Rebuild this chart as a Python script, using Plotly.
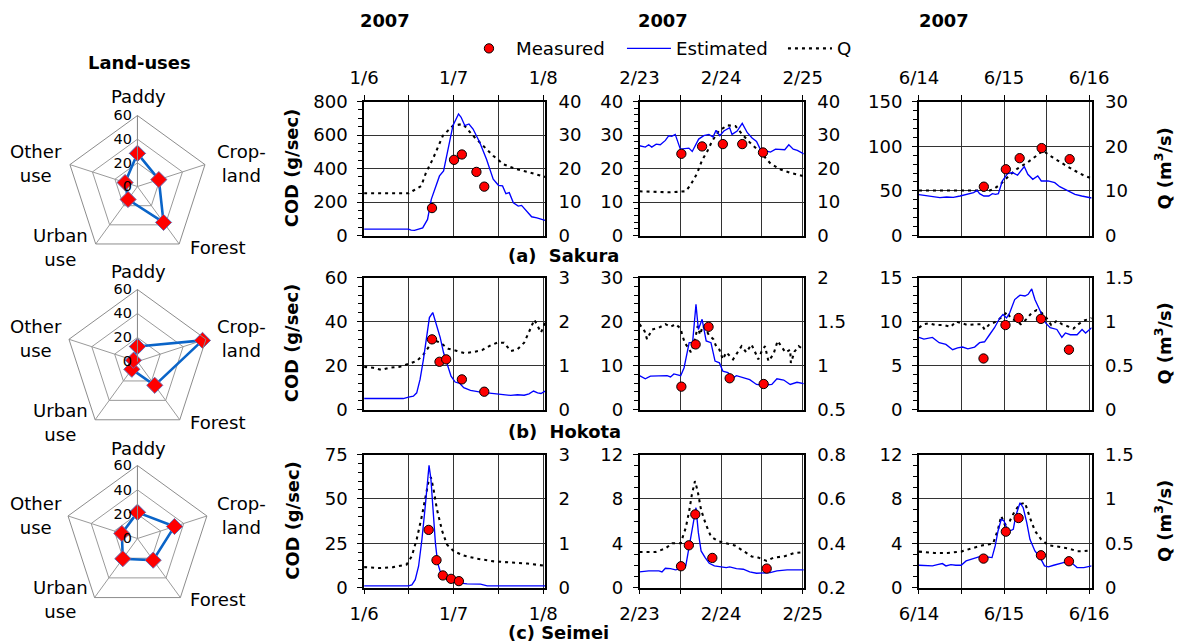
import plotly.graph_objects as go

FONT = "DejaVu Sans"

# ---------------- Land-use radar data (%) ----------------
lu_categories = ["Paddy", "Crop-<br>land", "Forest", "Urban<br>use", "Other<br>use"]
sakura_lu = [28, 19, 37.5, 13.5, 11]
hokota_lu = [12.5, 57, 24.5, 8, 3.5]
seimei_lu = [21.5, 32, 22, 20.5, 13.5]

# ---------------- time axis tick labels ----------------
hour_ticks = [0, 12, 24, 36, 48]
jan_labels = ["1/6", "", "1/7", "", "1/8"]
feb_labels = ["2/23", "", "2/24", "", "2/25"]
jun_labels = ["6/14", "", "6/15", "", "6/16"]

# ---------------- (a) Sakura ----------------
A1_est_t = [0, 11.9, 12.6, 13.5, 15.7, 17, 18, 19.3, 20.2, 21.3, 22.5, 23.8, 25.3, 26, 27, 28.1, 29.2, 31, 32.8, 34.6, 36, 37.1, 38, 38.9, 40, 41.3, 42.2, 43.6, 44.9, 46.3, 47.9, 48.5]
A1_est = [38, 38, 32, 31, 46, 96, 216, 296, 356, 386, 526, 656, 726, 706, 656, 666, 636, 556, 456, 336, 300, 296, 250, 256, 196, 176, 180, 146, 112, 106, 96, 90]
A1_q_t = [0, 12, 13, 15.3, 16.6, 18.4, 21.1, 23.8, 26.5, 29.2, 31.9, 34.6, 37.3, 40.9, 44.5, 48.5]
A1_q = [12.6, 12.6, 13.3, 14.8, 18.8, 22.8, 29.8, 32.8, 33.3, 29.8, 26.8, 23.8, 21.3, 19.8, 18.8, 17.5]
A1_meas_t = [18.2, 24.1, 26.2, 30.1, 32.2]
A1_meas = [164, 452, 484, 380, 292]

A2_est_t = [0, 1.7, 2.7, 3.6, 4.9, 6.1, 7.6, 8.6, 9.5, 10.5, 12, 13.5, 14.5, 15.5, 17.4, 18.9, 20.4, 21.6, 22.5, 23.6, 24.8, 26.5, 27.2, 28.7, 30.2, 31.7, 33.1, 34.4, 35.6, 37.1, 38.5, 40, 41.5, 42.7, 43.9, 45.2, 46.4, 48.3]
A2_est = [26.8, 26.4, 27.1, 26.4, 27.3, 27.1, 28.4, 29.8, 29.6, 30.2, 25.8, 26.1, 26.1, 25.1, 28.8, 29.8, 30.2, 29.4, 31.4, 29.8, 31.2, 32.2, 30.2, 31.2, 33.5, 30.7, 29.1, 28.1, 25.6, 25.3, 24.9, 25.8, 25.8, 25.6, 27.1, 25.8, 25.4, 24.4]
A2_q_t = [0, 5.1, 9, 12, 13.5, 14.9, 16.9, 18.4, 19.9, 21.3, 23.3, 25.8, 28.2, 30.2, 32.6, 35.6, 38.5, 41.5, 44.4, 48.3]
A2_q = [13.2, 13.1, 12.9, 13.1, 13.2, 14.9, 18.5, 22.5, 25.1, 28.1, 31.2, 32.9, 32.7, 30.2, 27.6, 24.8, 21.5, 19.7, 18.7, 17.7]
A2_meas_t = [12.3, 18.4, 24.5, 30.2, 36.3]
A2_meas = [24.4, 26.6, 27.3, 27.3, 24.8]

A3_est_t = [0, 2.1, 4, 5.9, 7.8, 9.7, 11.6, 13.5, 15.4, 16.4, 17.1, 18.3, 19.7, 20.7, 21.6, 22.4, 23.5, 25, 26.4, 27.8, 28.8, 29.7, 30.7, 32.1, 33.5, 34.5, 36.4, 38.3, 39.7, 41.6, 44, 45.9, 48.7]
A3_est = [45.8, 44.3, 43.5, 42.4, 43.1, 42.8, 44.3, 46.1, 48, 50.6, 46.9, 44.3, 44.3, 46.9, 46.1, 46.9, 61.1, 69.4, 70.5, 67.5, 72.4, 77.2, 68.6, 63, 66.7, 61.1, 61.1, 59.2, 54.7, 51, 46.1, 44.3, 42]
A3_q_t = [0, 10, 20, 21.1, 23, 25.4, 27.8, 30.7, 32.6, 35, 36.9, 39.2, 41.6, 44, 46.4, 48.7]
A3_q = [10.1, 10.1, 10.1, 10.4, 11.5, 13.4, 15, 16.4, 17.5, 19, 17.9, 16.7, 15.6, 14.5, 13.5, 12.8]
A3_meas_t = [18.3, 24.5, 28.4, 34.6, 42.5]
A3_meas = [54.7, 74.2, 86.6, 97.9, 85.5]

# ---------------- (b) Hokota ----------------
B1_est_t = [0, 10.5, 11.9, 13.2, 14.1, 15, 15.9, 16.8, 17.5, 18.4, 19.5, 20.4, 21.3, 22.2, 23.3, 24.4, 25.6, 26.7, 28.5, 31.2, 33.9, 36.6, 39.3, 41.1, 42.9, 44.2, 45.4, 46.5, 47.4, 48.5]
B1_est = [5, 5, 5.6, 6.1, 7.6, 13.7, 22.8, 35, 41.8, 44.1, 38, 32.7, 25.8, 20.5, 15.2, 12.5, 11.9, 9.9, 8.7, 7.9, 7.3, 6.8, 6.4, 6.7, 6.5, 7.1, 8.4, 7.6, 7.3, 8.4]
B1_q_t = [0, 2.4, 4.7, 6.9, 9.6, 12.3, 14.1, 15.9, 17.3, 18.6, 20.4, 22.6, 24.9, 27.1, 29.4, 31.6, 33.9, 35.7, 37.5, 39.3, 41.1, 42.9, 44.7, 45.6, 46.5, 47.4, 48.5]
B1_q = [0.97, 0.95, 0.9, 0.95, 0.97, 1.04, 1.1, 1.25, 1.43, 1.58, 1.52, 1.38, 1.33, 1.28, 1.31, 1.35, 1.46, 1.52, 1.52, 1.33, 1.37, 1.52, 1.86, 2.04, 1.9, 1.75, 1.98]
B1_meas_t = [18.2, 20.2, 22, 26.2, 32.2]
B1_meas = [31.9, 21.7, 22.8, 13.7, 8.1]

B2_est_t = [0, 1.7, 3.2, 5.7, 8.1, 9.1, 10.1, 12.1, 13.1, 14.6, 15.6, 16.6, 17.3, 18.4, 19.6, 21, 22.2, 23.5, 24.5, 26, 27.5, 28.5, 30.5, 32.4, 34.4, 36.4, 38.9, 40.4, 42.4, 44.3, 46.3, 48.3]
B2_est = [7.7, 7, 7.6, 7.6, 7.7, 7.4, 8.1, 7.7, 9.5, 15.2, 15.2, 23.9, 18.2, 20.5, 15.6, 15.2, 11, 10.6, 8.7, 8.4, 7.2, 7.7, 7.2, 6.8, 5.7, 5.5, 5.7, 7, 6.7, 5.7, 6.2, 5.9]
B2_q_t = [0, 1.5, 2.2, 3.7, 5.7, 7.6, 9.1, 10.6, 12.1, 12.6, 13.4, 14.4, 15.1, 15.8, 16.6, 17.1, 17.8, 18.6, 19.5, 20.5, 21.7, 22.7, 23.5, 24.5, 25.5, 26.5, 27.5, 28.5, 30, 31.4, 32.9, 33.9, 34.9, 35.9, 36.9, 37.9, 39.4, 40.6, 41.9, 42.9, 44.3, 44.5, 45.6, 46.8, 48.3]
B2_q = [1.47, 1.39, 1.30, 1.41, 1.43, 1.47, 1.44, 1.47, 1.42, 1.34, 1.25, 1.20, 1.15, 1.22, 1.35, 1.45, 1.35, 1.45, 1.41, 1.34, 1.30, 1.20, 1.18, 1.07, 1.15, 1.11, 1.07, 1.13, 1.22, 1.15, 1.24, 1.16, 1.07, 1.16, 1.22, 1.05, 1.13, 1.28, 1.20, 1.15, 1.18, 1.03, 1.16, 1.22, 1.18]
B2_meas_t = [12.3, 16.5, 20.3, 26.5, 36.5]
B2_meas = [5.2, 14.8, 18.8, 7.1, 5.8]

B3_est_t = [0, 1.4, 3.8, 5.7, 7.6, 9.5, 10.9, 12.3, 13.8, 15.7, 17.1, 18.5, 19.9, 21.3, 22.8, 23.7, 24.7, 25.6, 27, 28.5, 29.9, 30.8, 31.8, 32.7, 34.2, 35.6, 37, 38.9, 40.3, 41.3, 42.7, 44.6, 46, 47, 48.7]
B3_est = [8.2, 8, 8.2, 7.6, 7.4, 6.8, 7, 7.1, 6.9, 7.1, 7.6, 7.7, 8.5, 9.3, 10.4, 10.8, 10.4, 11, 12.5, 13, 12.9, 13.1, 13.7, 12.5, 11.2, 9.9, 9.3, 9.1, 8.2, 8.7, 8.5, 8.5, 9.1, 8.7, 9.3]
B3_q_t = [0, 1.4, 2.8, 4.7, 7.1, 9, 10.4, 11.8, 13.8, 16.1, 17.6, 18.5, 19.9, 21.3, 22.8, 23.7, 24.9, 25.8, 27.2, 28.7, 30.4, 31.8, 33.2, 34.6, 36, 37.3, 38.9, 40.3, 41.7, 43.6, 45, 46.5, 48.7]
B3_q = [0.93, 0.97, 0.98, 0.96, 0.96, 0.94, 1.0, 0.98, 0.96, 0.97, 0.97, 0.91, 0.97, 0.99, 1.03, 1.06, 1.11, 1.04, 1.01, 0.97, 1.03, 1.10, 1.13, 1.10, 1.04, 0.96, 1.01, 0.97, 0.95, 0.92, 0.97, 1.01, 1.04]
B3_meas_t = [18.2, 24.4, 28.1, 34.4, 42.3]
B3_meas = [5.8, 9.6, 10.4, 10.3, 6.8]

# ---------------- (c) Seimei ----------------
C1_est_t = [0, 11.9, 12.8, 13.7, 14.6, 15.5, 16.4, 17, 17.4, 17.9, 18.4, 19.1, 19.7, 20.4, 21.3, 22.7, 24, 25.8, 27.6, 31.2, 33, 48.5]
C1_est = [0.95, 0.95, 1.5, 4.4, 12, 27.2, 46.1, 63.2, 68.9, 61.3, 44.2, 25.3, 13.9, 9.1, 6.3, 4.4, 3.4, 2.5, 2.1, 1.9, 0.95, 0.95]
C1_q_t = [0, 4.2, 7.8, 11.4, 12.8, 14.1, 15.5, 16.6, 17.3, 17.9, 18.6, 19.5, 20.9, 22.2, 24, 26.7, 30.3, 34.8, 39.3, 43.8, 48.5]
C1_q = [0.46, 0.44, 0.46, 0.52, 0.71, 1.09, 1.62, 2.15, 2.41, 2.49, 2.22, 1.77, 1.28, 0.97, 0.82, 0.72, 0.65, 0.59, 0.57, 0.54, 0.49]
C1_meas_t = [17.3, 19.4, 21.1, 23.3, 25.4]
C1_meas = [32.5, 15.4, 6.8, 4.9, 3.6]

C2_est_t = [0, 2.7, 5.7, 6.6, 7.6, 9.1, 10.6, 12.1, 13.6, 14.6, 15.8, 16.6, 17.3, 18.1, 19.3, 20.5, 22, 23.5, 25.5, 26.5, 28.5, 30.5, 32.4, 34.4, 36.4, 38.4, 40.4, 43.4, 46.3, 48.3]
C2_est = [1.41, 1.5, 1.5, 1.41, 1.74, 1.71, 1.59, 1.71, 1.95, 3.75, 5.85, 7.2, 4.95, 3.3, 2.7, 2.19, 1.95, 1.89, 1.8, 1.86, 1.71, 1.65, 1.41, 1.29, 1.29, 1.35, 1.5, 1.59, 1.59, 1.59]
C2_q_t = [0, 4.7, 7.6, 9.6, 12.1, 13.6, 14.6, 15.4, 16.3, 17.1, 18.1, 19.5, 21, 23, 25.5, 28, 30.5, 33, 34.9, 37.4, 39.4, 42.4, 45.3, 48.3]
C2_q = [0.36, 0.36, 0.376, 0.40, 0.40, 0.47, 0.545, 0.62, 0.68, 0.635, 0.55, 0.485, 0.43, 0.41, 0.40, 0.39, 0.365, 0.34, 0.335, 0.32, 0.335, 0.34, 0.355, 0.36]
C2_meas_t = [12.2, 14.5, 16.4, 21.4, 37.4]
C2_meas = [1.92, 3.81, 6.6, 2.67, 1.71]

C3_est_t = [0, 2.4, 3.8, 5.2, 6.6, 7.6, 9, 10.4, 11.9, 13.3, 15.2, 17.1, 19, 20.6, 21.5, 22.3, 23.2, 24, 24.7, 25.6, 26.6, 27.3, 28.5, 29.4, 30.4, 31.3, 32.7, 34.2, 35.4, 36.5, 38, 39.8, 41.5, 43.2, 44.6, 46.5, 48.7]
C3_est = [2.01, 2.01, 1.95, 2.07, 2.16, 1.95, 2.07, 2.01, 2.01, 2.4, 2.61, 2.79, 2.76, 2.7, 3.75, 5.1, 6.15, 6, 5.4, 5.1, 5.25, 6.45, 7.65, 7.2, 5.85, 4.35, 3.3, 2.7, 1.95, 1.86, 2.01, 2.19, 2.31, 2.19, 1.8, 1.8, 1.95]
C3_q_t = [0, 4.3, 8.1, 11.9, 14.7, 18, 20.9, 22.3, 23.2, 24.2, 25.6, 27, 28.5, 29.9, 31.3, 32.7, 34.5, 36.5, 39.4, 42.2, 44.6, 46.5, 48.7]
C3_q = [0.405, 0.39, 0.39, 0.405, 0.44, 0.476, 0.495, 0.656, 0.806, 0.71, 0.75, 0.86, 0.94, 0.956, 0.787, 0.64, 0.54, 0.476, 0.46, 0.44, 0.41, 0.41, 0.42]
C3_meas_t = [18.2, 24.5, 28.1, 34.4, 42.3]
C3_meas = [2.61, 5.04, 6.27, 2.91, 2.37]

# ---------------- screen -> figure mapping ----------------
# The photographed page appears scaled (~0.967) and offset; positions below are
# given in target screen pixels and converted to paper fractions.
SX, SY = 0.966, 0.968
OX, OY = 13.0, 0.7
BODY = 8
W, H = 1200, 655
S = 1 / 0.967          # size compensation for fonts / markers


def fx(X):
    return (X - OX) / SX - BODY


def fy(Y):
    return (Y - OY) / SY - BODY


def px(X):
    return fx(X) / W


def py(Y):
    return 1 - fy(Y) / H


def sz(v):
    return v * S


col_dom = [(364.3, 545.0), (639.3, 803.3), (918.3, 1090.7)]
row_dom = [(99.0, 233.0), (275.0, 407.0), (452.0, 585.0)]
x_ranges = [[0, 48.5], [0, 48.3], [0, 48.7]]
x_labels = [jan_labels, feb_labels, jun_labels]

panels = [
    (A1_est_t, A1_est, A1_q_t, A1_q, A1_meas_t, A1_meas, [0, 800], 200, 50, [0, 40], 10),
    (A2_est_t, A2_est, A2_q_t, A2_q, A2_meas_t, A2_meas, [0, 40], 10, 2, [0, 40], 10),
    (A3_est_t, A3_est, A3_q_t, A3_q, A3_meas_t, A3_meas, [0, 150], 50, 10, [0, 30], 10),
    (B1_est_t, B1_est, B1_q_t, B1_q, B1_meas_t, B1_meas, [0, 60], 20, 4, [0, 3], 1),
    (B2_est_t, B2_est, B2_q_t, B2_q, B2_meas_t, B2_meas, [0, 30], 10, 2, [0.5, 2], 0.5),
    (B3_est_t, B3_est, B3_q_t, B3_q, B3_meas_t, B3_meas, [0, 15], 5, 1, [0, 1.5], 0.5),
    (C1_est_t, C1_est, C1_q_t, C1_q, C1_meas_t, C1_meas, [0, 75], 25, 5, [0, 3], 1),
    (C2_est_t, C2_est, C2_q_t, C2_q, C2_meas_t, C2_meas, [0, 12], 4, 1, [0.2, 0.8], 0.2),
    (C3_est_t, C3_est, C3_q_t, C3_q, C3_meas_t, C3_meas, [0, 12], 4, 1, [0, 1.5], 0.5),
]

fig = go.Figure()
layout = {}
tickfont = dict(family=FONT, size=sz(17.5), color="black")

for k, (et, ev, qt, qv, mt, mv, cod_rng, cod_dt, cod_mdt, q_rng, q_dt) in enumerate(panels):
    n = k + 1
    r, c = divmod(k, 3)
    xname = "x" if n == 1 else f"x{n}"
    qname = "y" if n == 1 else f"y{n}"          # base axis: Q (right)
    cname = f"y{n + 9}"                          # overlay axis: COD (left)
    xkey = "xaxis" if n == 1 else f"xaxis{n}"
    qkey = "yaxis" if n == 1 else f"yaxis{n}"
    ckey = f"yaxis{n + 9}"

    fig.add_trace(go.Scatter(x=qt, y=qv, xaxis=xname, yaxis=qname, mode="lines",
                             line=dict(color="black", width=sz(2), dash="3px,4px"),
                             name="Q", showlegend=(n == 1), legendrank=3, hoverinfo="skip"))
    fig.add_trace(go.Scatter(x=et, y=ev, xaxis=xname, yaxis=cname, mode="lines",
                             line=dict(color="#0000FF", width=sz(1.3)),
                             name="Estimated", showlegend=(n == 1), legendrank=2,
                             legendwidth=102))
    fig.add_trace(go.Scatter(x=mt, y=mv, xaxis=xname, yaxis=cname, mode="markers",
                             marker=dict(symbol="circle", size=sz(9), color="#FF0000",
                                         line=dict(color="black", width=1)),
                             name="Measured", showlegend=(n == 1), legendrank=1,
                             legendwidth=101))

    x0, x1 = col_dom[c]
    yt, yb = row_dom[r]
    xax = dict(domain=[px(x0), px(x1)], anchor=qname, range=x_ranges[c],
               tickmode="array", tickvals=hour_ticks, ticktext=x_labels[c],
               showgrid=True, gridcolor="#333333", gridwidth=1,
               showline=True, linecolor="black", linewidth=1.5, mirror=True,
               zeroline=False, tickfont=tickfont, ticklabelstandoff=4)
    if r == 0:
        xax.update(side="top", ticks="outside", ticklen=5, tickcolor="black", showticklabels=True)
    elif r == 2:
        xax.update(side="bottom", ticks="outside", ticklen=5, tickcolor="black", showticklabels=True)
    else:
        xax.update(ticks="", showticklabels=False)
    layout[xkey] = xax

    layout[qkey] = dict(domain=[py(yb), py(yt)], anchor=xname, side="right",
                        range=q_rng, tickmode="linear", tick0=q_rng[0], dtick=q_dt,
                        showgrid=False, zeroline=False, showline=True,
                        linecolor="black", linewidth=1.5, ticks="",
                        tickfont=tickfont, ticklabelstandoff=8)
    layout[ckey] = dict(overlaying=qname, anchor=xname, side="left",
                        range=cod_rng, tickmode="linear", tick0=0, dtick=cod_dt,
                        showgrid=True, gridcolor="#333333", gridwidth=1,
                        zeroline=False, showline=True, linecolor="black", linewidth=1.5,
                        ticks="outside", ticklen=5, tickcolor="black",
                        minor=dict(dtick=cod_mdt, ticks="outside", ticklen=4,
                                   tickcolor="black", showgrid=False),
                        tickfont=tickfont, ticklabelstandoff=6)

# ---------------- radar charts ----------------
ann = []
radar_sets = [sakura_lu, hokota_lu, seimei_lu]
radar_centers = [(138, 184, 71), (138, 359, 72), (138, 536, 73)]
label_offsets = [(1, -90), (104, -23), (80, 61), (-77, 61), (-101, -23)]
for i, vals in enumerate(radar_sets):
    pname = "polar" if i == 0 else f"polar{i + 1}"
    fig.add_trace(go.Scatterpolar(
        r=vals + [vals[0]], theta=lu_categories + [lu_categories[0]], subplot=pname,
        mode="lines+markers", showlegend=False,
        line=dict(color="#0A64C8", width=sz(2.5)),
        marker=dict(symbol="diamond", size=sz(12), color="#FF0000",
                    line=dict(color="#6A6AAE", width=1))))
    cx, cy, rad = radar_centers[i]
    layout[pname] = dict(
        domain=dict(x=[px(cx - rad), px(cx + rad)], y=[py(cy + rad), py(cy - rad)]),
        gridshape="linear", bgcolor="white",
        radialaxis=dict(range=[0, 60], tickvals=[0, 20, 40, 60], angle=90, tickangle=90,
                        side="counterclockwise", showline=True, linecolor="#8C8C8C",
                        gridcolor="#9A9A9A", ticks="",
                        tickfont=dict(family=FONT, size=sz(14), color="black")),
        angularaxis=dict(rotation=90, direction="clockwise", linecolor="#8C8C8C",
                         gridcolor="#9A9A9A", ticks="", showticklabels=False))
    for cat, (dx, dy) in zip(lu_categories, label_offsets):
        ann.append(dict(x=px(cx + dx), y=py(cy + dy), text=cat, showarrow=False,
                        xanchor="center", yanchor="middle", align="center",
                        xref="paper", yref="paper",
                        font=dict(family=FONT, size=sz(17.5), color="black")))

# ---------------- annotations ----------------
bold = dict(family=FONT, size=sz(17.3), color="black")


def label(x, y, text, **kw):
    d = dict(x=px(x), y=py(y), text=text, showarrow=False, xref="paper", yref="paper",
             xanchor="center", yanchor="middle", font=bold)
    d.update(kw)
    return d


for xc in (385, 663, 943):
    ann.append(label(xc, 18, "<b>2007</b>"))
ann.append(label(140, 60, "<b>Land-uses</b>"))
for (yt, yb) in row_dom:
    ann.append(label(292, (yt + yb) / 2, "<b>COD (g/sec)</b>", textangle=-90))
    ann.append(label(1162, (yt + yb) / 2, "<b>Q (m<sup>3</sup>/s)</b>", textangle=-90))
for txt, yc in (("(a)  Sakura", 253), ("(b)  Hokota", 429), ("(c) Seimei", 630)):
    ann.append(label(506, yc, f"<b>{txt}</b>", xanchor="left"))

fig.update_layout(
    width=W, height=H, margin=dict(l=0, r=0, t=0, b=0),
    paper_bgcolor="white", plot_bgcolor="white",
    font=dict(family=FONT, size=sz(17.5), color="black"),
    showlegend=True,
    legend=dict(orientation="h", x=px(462), y=py(46), xanchor="left", yanchor="middle",
                font=dict(family=FONT, size=sz(17.6), color="black"),
                bgcolor="rgba(0,0,0,0)", traceorder="normal", itemwidth=44),
    annotations=ann,
    **layout)

fig.write_html("out.html")
